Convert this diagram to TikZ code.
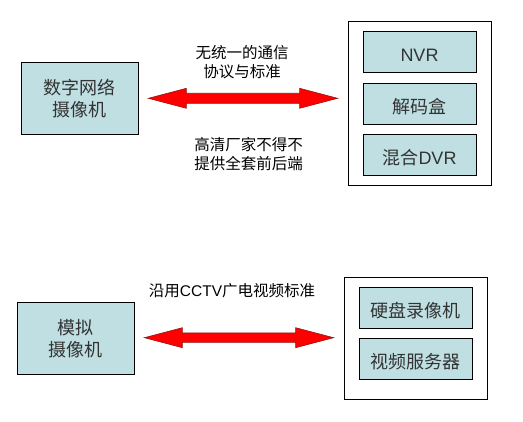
\documentclass[tikz,border=0pt]{standalone}
\usepackage{fontspec}
\setmainfont{Liberation Sans}
\newfontfamily\cjk{Noto Sans CJK SC}
\usepackage{tikz}
\usetikzlibrary{positioning,calc}
\definecolor{BoxC}{RGB}{191,223,227}
\definecolor{ArrRed}{RGB}{255,0,0}
\definecolor{ArrEdge}{RGB}{150,20,20}
\tikzset{
  cam/.style={draw=black,line width=0.8pt,fill=BoxC,minimum width=117pt,
              minimum height=72pt,align=center,text=black!80,
              font=\fontsize{18}{21.6}\selectfont\cjk},
  rack/.style={draw=black,line width=0.8pt,fill=white,minimum width=143pt},
  dev/.style={draw=black,line width=0.8pt,fill=BoxC,minimum width=113pt,
              minimum height=40.5pt,text=black!80,text height=19pt,text depth=0pt,
              font=\fontsize{18}{21.6}\selectfont},
  lbl/.style={align=center,font=\fontsize{15.5}{19}\selectfont\cjk},
  blk/.style={fill=ArrRed,draw=ArrEdge,line width=0.6pt,line join=miter},
}
\begin{document}
\begin{tikzpicture}[x=1pt,y=-1pt]
  \fill[white] (0,0) rectangle (523,422);
  \useasboundingbox (0,0) rectangle (523,422);
  % digital
  \node[cam] (cam1) at (79.5,98.3) {数字网络\\摄像机};
  \node[rack,minimum height=163.3pt] (rack1) at (419.5,103.3) {};
  \node[dev] (nvr) at (419.5,51.7) {NVR};
  \node[dev] (dec) at (419.5,103.7) {\cjk 解码盒};
  \node[dev] (dvr) at (419.5,155) {{\cjk 混合}DVR};
  \node[lbl] (t1) at (242,61.7) {无统一的通信\\协议与标准};
  \node[lbl] (t2) at (248.5,154) {高清厂家不得不\\提供全套前后端};
  \coordinate (a1l) at ($(cam1.east)+(10,0)$);
  \coordinate (a1r) at ($(a1l -| rack1.west)+(-10,0)$);
  \draw[blk] (a1l) -- ++(38,-10) -- ++(0,5) -- ($(a1r)+(-38,-5)$) -- ++(0,-5)
    -- (a1r) -- ++(-38,10) -- ++(0,-5) -- ($(a1l)+(38,5)$) -- ++(0,5) -- cycle;
  % analog
  \node[cam] (cam2) at (75.5,338.5) {模拟\\摄像机};
  \node[rack,minimum height=121.6pt] (rack2) at (415.5,338.5) {};
  \node[dev] (hdd) at (415.5,308) {\cjk 硬盘录像机};
  \node[dev] (vsrv) at (415.5,359) {\cjk 视频服务器};
  \node[lbl] (t3) at (232,291) {沿用{\fontspec{Liberation Sans}CCTV}广电视频标准};
  \coordinate (a2l) at ($(cam2.east)+(10,-0.8)$);
  \coordinate (a2r) at ($(a2l -| rack2.west)+(-10,0)$);
  \draw[blk] (a2l) -- ++(38,-10) -- ++(0,5.3) -- ($(a2r)+(-38,-4.7)$) -- ++(0,-5.3)
    -- (a2r) -- ++(-38,10) -- ++(0,-5.3) -- ($(a2l)+(38,4.7)$) -- ++(0,5.3) -- cycle;
\end{tikzpicture}
\end{document}
